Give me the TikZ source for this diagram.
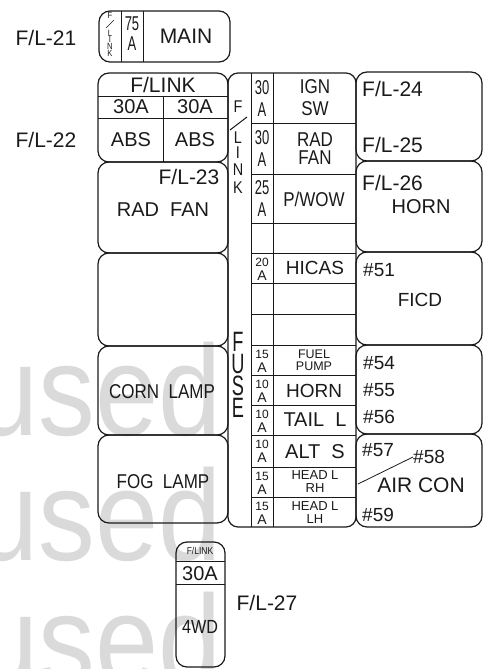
\documentclass[tikz,border=0pt]{standalone}
\usepackage{fontspec}
\setmainfont{Liberation Sans}
\newfontfamily\narrowfont[FakeStretch=0.85]{Liberation Sans}
\newfontfamily\ampfont[FakeStretch=0.65]{Liberation Sans}
\newfontfamily\wmfont[FakeStretch=0.88]{Liberation Sans}
\usetikzlibrary{positioning}
\definecolor{inkline}{HTML}{1A1A1A}
\definecolor{wmgray}{HTML}{DADADA}
\newcommand{\fsz}[1]{\fontsize{#1}{#1}\selectfont}

\begin{document}
\begin{tikzpicture}[x=1pt, y=-1pt,
    box/.style={draw=inkline, line width=1.2pt, rounded corners=11pt},
    rule/.style={draw=inkline, line width=1pt},
    lbl/.style={inner sep=0pt, text=inkline}]
\useasboundingbox (0,0) rectangle (483,669);

% Watermark
\foreach \y [count=\k] in {435,560,685}
    \node[anchor=base west, inner sep=0pt, text=wmgray, font={\wmfont\fsz{129}}] (wm\k) at (-25,\y) {used};

% F/L-21 main link
\draw[box] (99,11) rectangle (230,62);
\draw[rule] (121,11) -- (121,62);
\draw[rule] (143,11) -- (143,62);
\foreach \ch/\y in {F/15, L/33, I/39, N/46, K/53}
    \node[lbl, font={\narrowfont\fsz{9}}] (pl\ch) at (110,\y) {\ch};
\draw[rule, line width=0.7pt] (114,20) -- (106,28);
\node[lbl, font={\ampfont\fsz{20}}] (main75) at (132,24) {75};
\node[lbl, font={\ampfont\fsz{20}}] (mainA) at (132,44) {A};
\node[lbl, font=\fsz{21}] (mainlbl) at (186,36) {MAIN};
\node[lbl, font=\fsz{21}] (fl21) at (46,38) {F/L-21};

% F/L-22 double link
\draw[box] (98,73) rectangle (228,162);
\draw[rule] (98,96) -- (228,96);
\draw[rule] (98,118) -- (228,118);
\draw[rule] (163,96) -- (163,162);
\node[lbl, font=\fsz{21}] (abslink) at (163,85) {F/LINK};
\node[lbl, font=\fsz{20}] (absampl) at (131,107) {30A};
\node[lbl, font=\fsz{20}] (absampr) at (195,107) {30A};
\node[lbl, font=\fsz{20}] (absl) at (131,140) {ABS};
\node[lbl, font=\fsz{20}] (absr) at (195,140) {ABS};
\node[lbl, font=\fsz{21}] (fl22) at (46,140) {F/L-22};

% Left relay boxes
\draw[box] (98,162) rectangle (228,253);
\draw[box] (98,253) rectangle (228,346);
\draw[box] (98,346) rectangle (228,435);
\draw[box] (98,435) rectangle (228,523);
\node[lbl, font=\fsz{21}] (fl23) at (189,177) {F/L-23};
\node[lbl, font=\fsz{20}] (radfan) at (163,210) {RAD~~FAN};
\node[lbl, font={\narrowfont\fsz{20}}] (cornlamp) at (162,392) {CORN~~LAMP};
\node[lbl, font={\narrowfont\fsz{20}}] (foglamp) at (163,482) {FOG~~LAMP};

% Fuse strip
\draw[box, rounded corners=10pt] (228,73) rectangle (356,527);
\draw[rule] (251,73) -- (251,527);
\draw[rule] (273,73) -- (273,527);
\foreach \y in {123,174,223,253,283,314,345,375,405,435,467,497}
    \draw[rule] (251,\y) -- (356,\y);
\foreach \ch/\y in {F/107, L/138, I/153, N/170, K/188}
    \node[lbl, font={\narrowfont\fsz{17}}] (fl\ch) at (238,\y) {\ch};
\draw[rule] (247,117) -- (230,130);
\foreach \ch/\y in {F/342, U/364, S/386, E/408}
    \node[lbl, font={\ampfont\fsz{28}}] (fuse\ch) at (238,\y) {\ch};

% Amp ratings
\foreach \y/\amp in {88/30, 138/30, 188/25}
    \node[lbl, font={\ampfont\fsz{20}}] (big\y) at (262,\y) {\amp};
\foreach \y in {110, 160, 210}
    \node[lbl, font={\ampfont\fsz{20}}] (bigA\y) at (262,\y) {A};
\foreach \y/\amp in {253/20, 345/15, 375/10, 405/10, 435/10, 467/15, 497/15} {
    \node[lbl, font=\fsz{12}] (amp\y) at (262,\y+9) {\amp};
    \node[lbl, font=\fsz{14}] (ampA\y) at (262,\y+23) {A};
}

% Fuse circuits
\node[lbl, font={\narrowfont\fsz{20}}] (ign) at (315,87) {IGN};
\node[lbl, font={\narrowfont\fsz{20}}] (sw) at (315,109) {SW};
\node[lbl, font={\narrowfont\fsz{20}}] (rad) at (315,140) {RAD};
\node[lbl, font={\narrowfont\fsz{20}}] (fan) at (315,158) {FAN};
\node[lbl, font={\narrowfont\fsz{20}}] (pwow) at (314,199) {P/WOW};
\node[lbl, font=\fsz{19}] (hicas) at (315,268) {HICAS};
\node[lbl, font=\fsz{12.5}] (fuel) at (314,354) {FUEL};
\node[lbl, font=\fsz{12.5}] (pump) at (314,366) {PUMP};
\node[lbl, font=\fsz{19}] (hornf) at (314,391) {HORN};
\node[lbl, font=\fsz{20}] (taill) at (315,420) {TAIL~~L};
\node[lbl, font=\fsz{20}] (alts) at (315,452) {ALT~~S};
\node[lbl, font=\fsz{13}] (headr) at (315,475) {HEAD~L};
\node[lbl, font=\fsz{13}] (rh) at (315,488) {RH};
\node[lbl, font=\fsz{13}] (headl) at (315,506) {HEAD~L};
\node[lbl, font=\fsz{13}] (lh) at (315,519) {LH};

% Right relay boxes
\foreach \a/\b in {72/161, 161/252, 252/345, 345/434, 434/527}
    \draw[box] (356,\a) rectangle (482,\b);
\node[lbl, anchor=west, font=\fsz{21}] (fl24) at (362,89) {F/L-24};
\node[lbl, anchor=west, font=\fsz{21}] (fl25) at (362,145) {F/L-25};
\node[lbl, anchor=west, font=\fsz{21}] (fl26) at (362,183) {F/L-26};
\node[lbl, font=\fsz{20}] (hornr) at (421,207) {HORN};
\node[lbl, anchor=west, font=\fsz{19}] (n51) at (363,270) {\#51};
\node[lbl, font=\fsz{19}] (ficd) at (420,300) {FICD};
\node[lbl, anchor=west, font=\fsz{19}] (n54) at (363,363) {\#54};
\node[lbl, anchor=west, font=\fsz{19}] (n55) at (363,390) {\#55};
\node[lbl, anchor=west, font=\fsz{19}] (n56) at (363,417) {\#56};
\node[lbl, anchor=west, font=\fsz{19}] (n57) at (362,450) {\#57};
\node[lbl, anchor=west, font=\fsz{19}] (n58) at (413,457) {\#58};
\node[lbl, font=\fsz{21}] (aircon) at (421,485) {AIR~CON};
\node[lbl, anchor=west, font=\fsz{19}] (n59) at (362,515) {\#59};
\coordinate (airtip) at (358,484);
\draw[rule, line width=0.8pt] (n58.west) -- (airtip);

% F/L-27 4WD link
\draw[box] (176,542) rectangle (225,667);
\draw[rule] (176,561) -- (225,561);
\draw[rule] (176,584) -- (225,584);
\node[lbl, font={\narrowfont\fsz{10}}] (wdlink) at (200,551) {F/LINK};
\node[lbl, font=\fsz{20}] (wdamp) at (200,574) {30A};
\node[lbl, font={\narrowfont\fsz{19}}] (wd) at (200,627) {4WD};
\node[lbl, font=\fsz{21}] (fl27) at (267,603) {F/L-27};

\end{tikzpicture}
\end{document}
